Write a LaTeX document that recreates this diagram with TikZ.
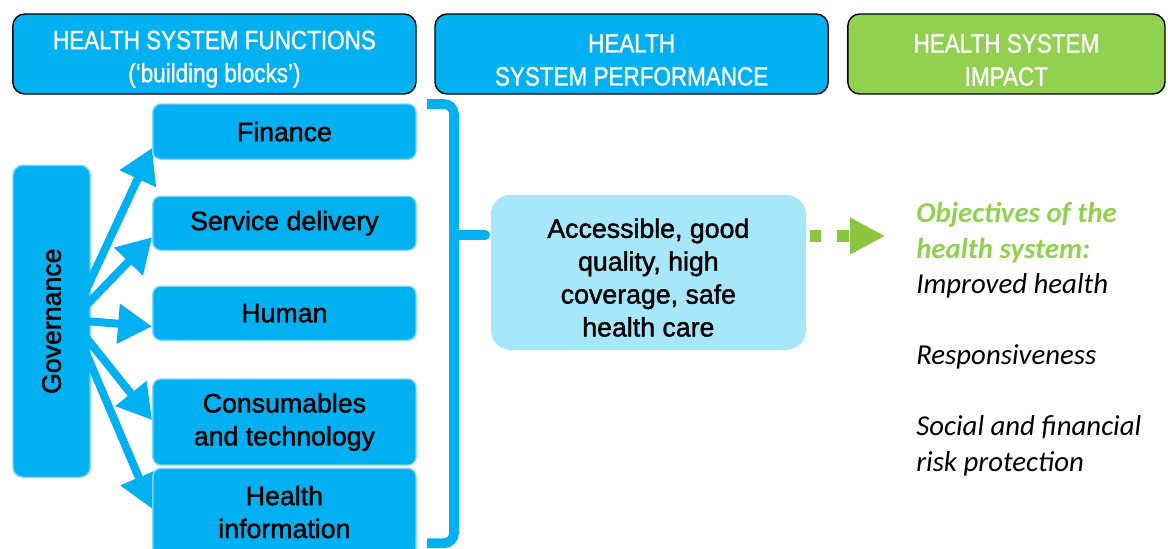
\documentclass[tikz,border=0pt]{standalone}
\usepackage{fontspec}
\setmainfont{Liberation Sans}[RawFeature={embolden=1.5}]
\newfontfamily\headfont{Liberation Sans}[FakeStretch=0.85,RawFeature={embolden=1.2}]
\newfontfamily\goalfont{Carlito}
\usepackage{xcolor}
\usetikzlibrary{arrows.meta,backgrounds}

\definecolor{hsblue}{HTML}{00B0F0}
\definecolor{hsedge}{HTML}{7DD6F7}
\definecolor{hslight}{HTML}{A6E7FB}
\definecolor{hsgreen}{HTML}{92D050}
\definecolor{hsdots}{HTML}{8CC63F}
\newcommand\goalhead[1]{\textcolor{hsgreen}{\bfseries #1}}

\begin{document}
\begin{tikzpicture}[
  header/.style={draw=black, line width=1pt, rounded corners=0.3cm, minimum height=2cm},
  headtext/.style={align=center, text=white, font=\headfont\fontsize{18.8}{23.5}\selectfont},
  block/.style={fill=hsblue, draw=hsedge, line width=1pt, rounded corners=0.2cm,
    minimum width=6.58cm, align=center, font=\fontsize{19}{23.4}\selectfont},
  feed/.style={hsblue, line width=0.2cm, -{Triangle[length=0.85cm,width=0.95cm]}},
  brace/.style={hsblue, line width=0.24cm},
  dots/.style={hsdots, line width=0.3cm, dash pattern=on 0.28cm off 0.4cm,
    -{Triangle[length=0.88cm,width=0.86cm]}}
]
  \useasboundingbox (0,0) rectangle (29.2,-13.7);
  % Headers
  \node[header, fill=hsblue, minimum width=10.08cm] (hfun) at (5.36,-1.35) {};
  \node[header, fill=hsblue, minimum width=9.83cm] (hperf) at (15.79,-1.35) {};
  \node[header, fill=hsgreen, minimum width=7.93cm] (himp) at (25.16,-1.35) {};
  \node[headtext] (hfuntext) at ([yshift=-0.13cm]hfun.center) {HEALTH SYSTEM FUNCTIONS\\(‘building blocks’)};
  \node[headtext] (hperftext) at ([yshift=-0.15cm]hperf.center) {HEALTH\\SYSTEM PERFORMANCE};
  \node[headtext] (himptext) at ([yshift=-0.15cm]himp.center) {HEALTH SYSTEM\\IMPACT};
  % Building blocks
  \node[block, minimum height=1.38cm] (fin) at (7.11,-3.29) {Finance};
  \node[block, minimum height=1.35cm] (svc) at (7.11,-5.58) {Service delivery};
  \node[block, minimum height=1.35cm] (hum) at (7.11,-7.83) {Human};
  \node[block, minimum height=2.15cm] (con) at (7.11,-10.55) {Consumables\\and technology};
  \node[block, minimum height=2.18cm] (inf) at (7.11,-12.8) {Health\\information};
  % Arrows from governance
  \coordinate (hub) at (1.8,-8.0);
  \begin{pgfonlayer}{background}
    \node[block, minimum width=7.8cm, minimum height=1.93cm, rounded corners=0.25cm, rotate=90] (gov) at (1.29,-8.03) {Governance};
    \draw[feed] (hub) -- ([yshift=0.3cm]fin.south west);
    \draw[feed] (hub) -- ([yshift=-0.35cm]svc.west);
    \draw[feed] (hub) -- ([yshift=-0.33cm]hum.west);
    \draw[feed] (hub) -- ([yshift=0.05cm]con.west);
    \draw[feed] (hub) -- ([yshift=0.08cm]inf.west);
  \end{pgfonlayer}
  % Brace
  \coordinate (tip) at (11.35,-5.88);
  \draw[brace, rounded corners=0.25cm] (10.68,-2.6) -- (11.35,-2.6) -- (11.35,-13.58) -- (10.68,-13.58);
  \draw[brace, line cap=round] (tip) -- ++(0.78,0);
  % Performance
  \node[fill=hslight, rounded corners=0.5cm, minimum width=7.88cm, minimum height=3.88cm] (perf) at (16.21,-6.81) {};
  \node[align=center, font=\fontsize{19}{23.4}\selectfont] (perftext) at ([yshift=-0.13cm]perf.center)
    {Accessible, good\\quality, high\\coverage, safe\\health care};
  % Impact
  \coordinate (goal) at (22.13,-5.9);
  \draw[dots] (perf.east |- goal) ++(0.1,0) -- (goal);
  \node[anchor=north west, inner sep=0pt, align=left, font=\goalfont\itshape\fontsize{20.5}{25.2}\selectfont] (obj) at (22.9,-5.06)
    {\goalhead{Objectives of the}\\\goalhead{health system:}\\Improved health\\[0.89cm]Responsiveness\\[0.89cm]Social and financial\\risk protection};
\end{tikzpicture}
\end{document}
